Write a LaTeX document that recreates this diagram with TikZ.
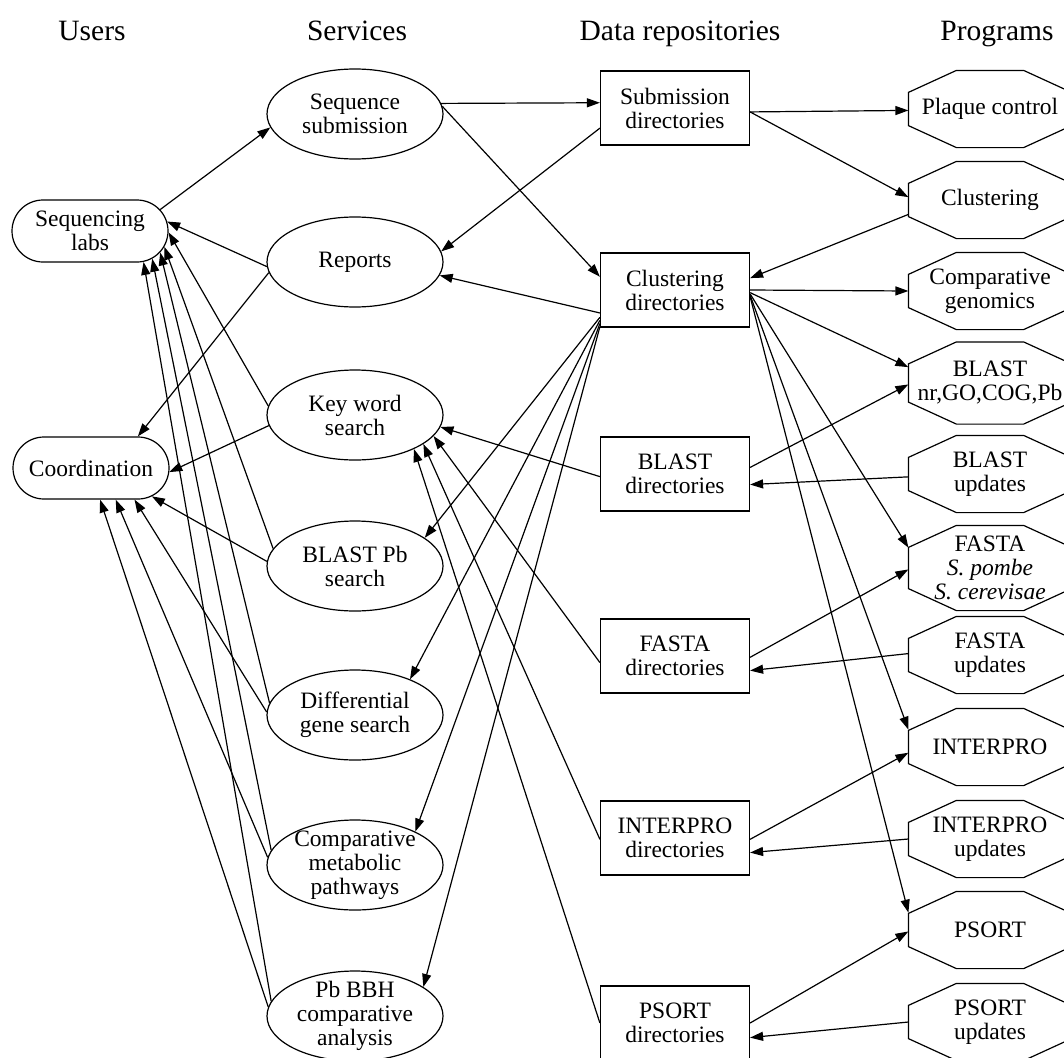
\documentclass[tikz,border=0pt]{standalone}
\usepackage{fontspec}
\setmainfont{Liberation Serif}
\usetikzlibrary{shapes.geometric,shapes.misc,arrows.meta,positioning}

\begin{document}
\begin{tikzpicture}[x=1pt, y=-1pt, font=\fontsize{23.5}{24}\selectfont, line width=1.2pt]
		\tikzstyle{Header}	= [font=\fontsize{29.5}{32}\selectfont, anchor=base, inner sep=0pt]
		\tikzstyle{User}	= [rounded rectangle, draw, minimum width=156pt, minimum height=62pt, inner sep=0pt, align=center]
		\tikzstyle{Service}	= [ellipse, draw, minimum width=176pt, minimum height=90pt, inner xsep=0pt, inner ysep=-6pt, align=center]
		\tikzstyle{Repo}	= [rectangle, draw, minimum width=149pt, minimum height=74pt, inner sep=0pt, align=center]
		\tikzstyle{Program}	= [rectangle, minimum width=162pt, minimum height=76pt, inner sep=0pt, align=center]
		\tikzstyle{Flow}	= [-{Triangle[length=13pt, width=9pt]}]

		\useasboundingbox (0,0) rectangle (1064,1057);
		\clip (0,0) rectangle (1064,1057);

		\node (hUsers) at (92,41) [Header] {Users};
		\node (hServices) at (357,41) [Header] {Services};
		\node (hRepos) at (680,41) [Header] {Data repositories};
		\node (hPrograms) at (997,41) [Header] {Programs};

		\node (labs) at (90,231) [User] {Sequencing\\labs};
		\node (coord) at (91,468) [User] {Coordination};

		\node (seqsub) at (355,114) [Service] {Sequence\\submission};
		\node (reports) at (355,262) [Service] {Reports};
		\node (kw) at (355,415) [Service] {Key word\\search};
		\node (blastpb) at (355,566) [Service] {BLAST Pb\\search};
		\node (diff) at (355,715) [Service] {Differential\\gene search};
		\node (compmeta) at (355,865) [Service] {Comparative\\metabolic\\pathways};
		\node (pbbbh) at (355,1016) [Service] {Pb BBH\\comparative\\analysis};

		\node (subdirs) at (675,108) [Repo] {Submission\\directories};
		\node (clusdirs) at (675,290) [Repo] {Clustering\\directories};
		\node (blastdirs) at (675,474) [Repo] {BLAST\\directories};
		\node (fastadirs) at (675,656) [Repo] {FASTA\\directories};
		\node (interprodirs) at (675,838) [Repo] {INTERPRO\\directories};
		\node (psortdirs) at (675,1023) [Repo] {PSORT\\directories};

		\node (plaque) at (990,109) [Program] {Plaque control};
		\node (clus) at (990,200) [Program] {Clustering};
		\node (compgen) at (990,291) [Program] {Comparative\\genomics};
		\node (blastnr) at (990,383) [Program, minimum height=81pt] {BLAST\\nr,GO,COG,Pb};
		\node (blastupd) at (990,474) [Program] {BLAST\\updates};
		\node (fastasp) at (990,568) [Program, minimum height=84pt] {FASTA\\\textit{S. pombe}\\\textit{S. cerevisae}};
		\node (fastaupd) at (990,655) [Program] {FASTA\\updates};
		\node (interpro) at (990,747) [Program] {INTERPRO};
		\node (interproupd) at (990,839) [Program] {INTERPRO\\updates};
		\node (psort) at (990,930) [Program] {PSORT};
		\node (psortupd) at (990,1022) [Program] {PSORT\\updates};

		% octagon outlines of the programs
		\foreach \p in {plaque, clus, compgen, blastnr, blastupd, fastasp, fastaupd, interpro, interproupd, psort, psortupd}
			\draw ([xshift=48pt]\p.north west) -- ([xshift=-48pt]\p.north east) -- ([yshift=-22pt]\p.north east)
				-- ([yshift=22pt]\p.south east) -- ([xshift=-48pt]\p.south east) -- ([xshift=48pt]\p.south west)
				-- ([yshift=22pt]\p.south west) -- ([yshift=-22pt]\p.north west) -- cycle;

		% users and services
		\draw [Flow] (labs.17) to (seqsub.189);
		\draw [Flow] (reports.183) to (labs.7);
		\draw [Flow] (reports.187) to (coord.34);
		\draw [Flow] (kw.174) to (labs.-1);
		\draw [Flow] (kw.187) to (coord.-3);
		\draw [Flow] (blastpb.168) to (labs.-12);
		\draw [Flow] (blastpb.177) to (coord.-25);
		\draw [Flow] (diff.172) to (labs.-17);
		\draw [Flow] (diff.178) to (coord.-36);
		\draw [Flow] (compmeta.170) to (labs.-24);
		\draw [Flow] (compmeta.175) to (coord.-52);
		\draw [Flow] (pbbbh.170) to (labs.-30);
		\draw [Flow] (pbbbh.174) to (coord.-74);

		% services and repositories
		\draw [Flow] (seqsub.7) to (subdirs.176);
		\draw [Flow] (seqsub.5) to (clusdirs.170);
		\draw [Flow] (subdirs.195) to (reports.7);
		\draw [Flow] (clusdirs.197) to (reports.-9);
		\draw [Flow] (clusdirs.200) to (blastpb.22);
		\draw [Flow] (clusdirs.202) to (diff.33);
		\draw [Flow] (clusdirs.204) to (compmeta.29);
		\draw [Flow] (clusdirs.206) to (pbbbh.23);
		\draw [Flow] (blastdirs.182) to (kw.-8);
		\draw [Flow] (fastadirs.185) to (kw.-15);
		\draw [Flow] (interprodirs.181) to (kw.-23);
		\draw [Flow] (psortdirs.180) to (kw.-30);

		% repositories and programs
		\draw [Flow] (subdirs.-3) to (plaque.181);
		\draw [Flow] (subdirs.-3) to (clus.178);
		\draw [Flow] (clus.190) to (clusdirs.9);
		\draw [Flow] (clusdirs.0) to (compgen.180);
		\draw [Flow] (clusdirs.-2) to (blastnr.169);
		\draw [Flow] (clusdirs.-3) to (fastasp.166);
		\draw [Flow] (clusdirs.-4) to (interpro.168);
		\draw [Flow] (clusdirs.-5) to (psort.168);
		\draw [Flow] (blastdirs.5) to (blastnr.181);
		\draw [Flow] (blastupd.182) to (blastdirs.-8);
		\draw [Flow] (fastadirs.-1) to (fastasp.181);
		\draw [Flow] (fastaupd.179) to (fastadirs.-11);
		\draw [Flow] (interprodirs.-1) to (interpro.184);
		\draw [Flow] (interproupd.180) to (interprodirs.-11);
		\draw [Flow] (psortdirs.0) to (psort.181);
		\draw [Flow] (psortupd.180) to (psortdirs.-11);
	\end{tikzpicture}
\end{document}
